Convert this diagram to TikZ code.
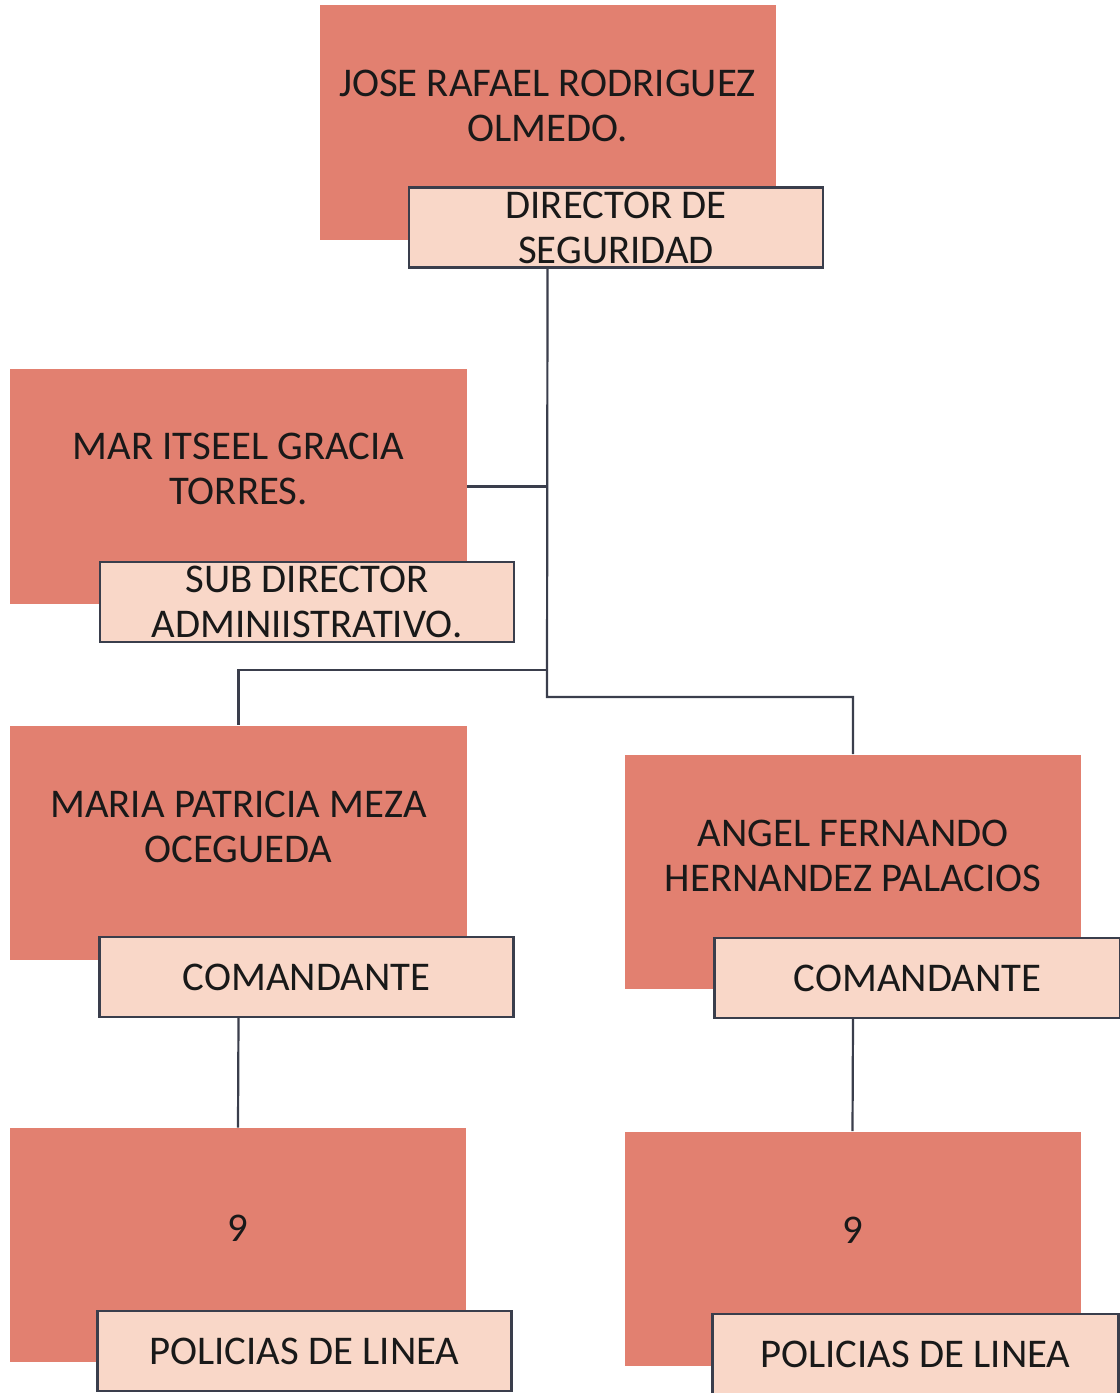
\documentclass[tikz,border=0pt]{standalone}
\usepackage{fontspec}
\setmainfont{Carlito}
\usepackage{tikz}
\usetikzlibrary{positioning}
\definecolor{salmon}{RGB}{226,128,112}
\definecolor{durazno}{RGB}{249,215,200}
\definecolor{linea}{RGB}{58,62,76}

\begin{document}
\begin{tikzpicture}
			[x=0.25mm, y=-0.25mm, inner sep=0pt,
			persona/.style	= {rectangle, fill=salmon, minimum width=114mm, minimum height=58.5mm},
			nombre/.style	= {align=center, text=black!90, font=\fontsize{29pt}{32pt}\selectfont},
			cargo/.style	= {draw=linea, rectangle, line width=0.55mm, fill=durazno, minimum width=103.5mm, minimum height=20mm, align=center, text=black!90, font=\fontsize{29pt}{32pt}\selectfont},
			enlace/.style	= {draw=linea, line width=0.55mm}]

			\useasboundingbox (0,0) rectangle (1120,1393);

			\node [persona]	at (547.5,122.5)	(jose)	{};
			\node [persona]	at (238.5,486.5)	(mar)	{};
			\node [persona]	at (238.5,842.5)	(maria)	{};
			\node [persona]	at (853,871.5)		(angel)	{};
			\node [persona]	at (238,1245)		(pol1)	{};
			\node [persona]	at (852.5,1248.5)	(pol2)	{};

			\node [nombre]	at ([yshift=4.25mm]jose.center)		(josetxt)	{JOSE RAFAEL RODRIGUEZ\\OLMEDO.};
			\node [nombre]	at ([yshift=4.5mm]mar.center)		(martxt)	{MAR ITSEEL GRACIA\\TORRES.};
			\node [nombre]	at ([yshift=4mm]maria.center)		(mariatxt)	{MARIA PATRICIA MEZA\\OCEGUEDA};
			\node [nombre]	at ([yshift=4mm]angel.center)		(angeltxt)	{ANGEL FERNANDO\\HERNANDEZ PALACIOS};
			\node [nombre]	at ([yshift=4.25mm]pol1.center)		(pol1txt)	{9};
			\node [nombre]	at ([yshift=4.5mm]pol2.center)		(pol2txt)	{9};

			\coordinate (rama)		at (547,670);
			\coordinate (tronco)	at (547,697);

			\draw [enlace]	(jose.south |- 0,268) -- (tronco) -| (angel.north);
			\draw [enlace]	(mar.east) -- (mar.east -| jose.south);
			\draw [enlace]	(rama) -| (maria.north);

			\node [cargo]	at (616,227.5)		(dir)	{DIRECTOR DE\\SEGURIDAD};
			\node [cargo]	at (307,602)		(sub)	{SUB DIRECTOR\\ADMINIISTRATIVO.};
			\node [cargo]	at (306.5,977)		(com1)	{COMANDANTE};
			\node [cargo, minimum width=101.5mm]	at (917.5,978)	(com2)	{COMANDANTE};
			\node [cargo]	at (304.5,1351)		(lin1)	{POLICIAS DE LINEA};
			\node [cargo, minimum width=101.5mm]	at (915.5,1354)	(lin2)	{POLICIAS DE LINEA};

			\draw [enlace]	(com1.south -| maria.south) -- (pol1.north);
			\draw [enlace]	(com2.south -| angel.south) -- (pol2.north);
\end{tikzpicture}
\end{document}
